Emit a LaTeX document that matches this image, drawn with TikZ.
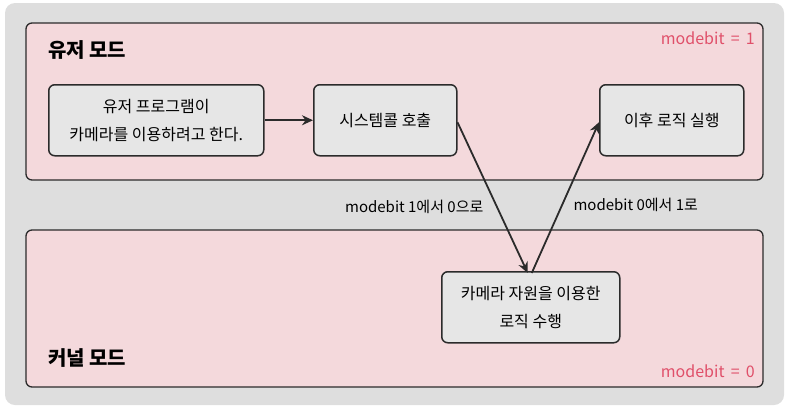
\documentclass[tikz,border=0pt]{standalone}
\usepackage{fontspec}
\setmainfont{Noto Sans CJK KR}
\usetikzlibrary{arrows.meta}
\definecolor{panelgray}{HTML}{DEDEDE}
\definecolor{modepink}{HTML}{F4D9DC}
\definecolor{boxgray}{HTML}{E6E6E6}
\definecolor{bitred}{HTML}{E0506A}
\definecolor{inkline}{HTML}{2B2B2B}

\begin{document}
\begin{tikzpicture}[x=1pt, y=-1pt,
  modebox/.style = {draw=inkline, fill=modepink, rounded corners=6pt, line width=1.3pt},
  stepbox/.style = {draw=inkline, fill=boxgray, rounded corners=6pt, line width=1.5pt,
                    anchor=north west, minimum height=71pt, inner sep=0, align=center,
                    font=\fontsize{16}{28}\selectfont},
  modetitle/.style = {anchor=west, inner sep=0, font=\fontsize{20}{22}\selectfont\bfseries},
  bitlabel/.style = {anchor=east, inner sep=0, text=bitred, font=\fontsize{16}{18}\selectfont},
  flow/.style = {-{Stealth[length=11pt,width=10pt]}, draw=inkline, line width=1.8pt},
  flowlabel/.style = {inner sep=0, font=\fontsize{15}{17}\selectfont}]
\useasboundingbox (0,0) rectangle (789,410);
\fill [panelgray, rounded corners=10pt] (5,3) rectangle (784,405);
% user mode
\draw [modebox] (26,23) rectangle (763,180);
\node [modetitle] (usertitle) at (48,50) {유저 모드};
\node [bitlabel] (userbit) at (755,38) {modebit \,=\, 1};
% kernel mode
\draw [modebox] (26,230) rectangle (763,387);
\node [modetitle] (kerneltitle) at (48,358) {커널 모드};
\node [bitlabel] (kernelbit) at (755,371) {modebit \,=\, 0};
% steps
\node [stepbox, minimum width=215pt] (program) at (48,84) {유저 프로그램이\\카메라를 이용하려고 한다.};
\node [stepbox, minimum width=143pt] (syscall) at (313,84) {시스템콜 호출};
\node [stepbox, minimum width=144pt] (after) at (599,84) {이후 로직 실행};
\node [stepbox, minimum width=178pt] (camera) at (441,271) {카메라 자원을 이용한\\로직 수행};
% arrows
\draw [flow] (program.east) -- (syscall.west);
\draw [flow] ([yshift=-2pt]syscall.east) -- ([xshift=-3pt,yshift=-2pt]camera.north)
  node [flowlabel, pos=0.58, anchor=east, xshift=-14pt, yshift=3pt] (downlabel) {modebit 1에서 0으로};
\draw [flow] ([xshift=1pt,yshift=-2pt]camera.north) -- ([yshift=-2pt]after.west)
  node [flowlabel, pos=0.43, anchor=west, xshift=12pt, yshift=3pt] (uplabel) {modebit 0에서 1로};
\end{tikzpicture}
\end{document}
